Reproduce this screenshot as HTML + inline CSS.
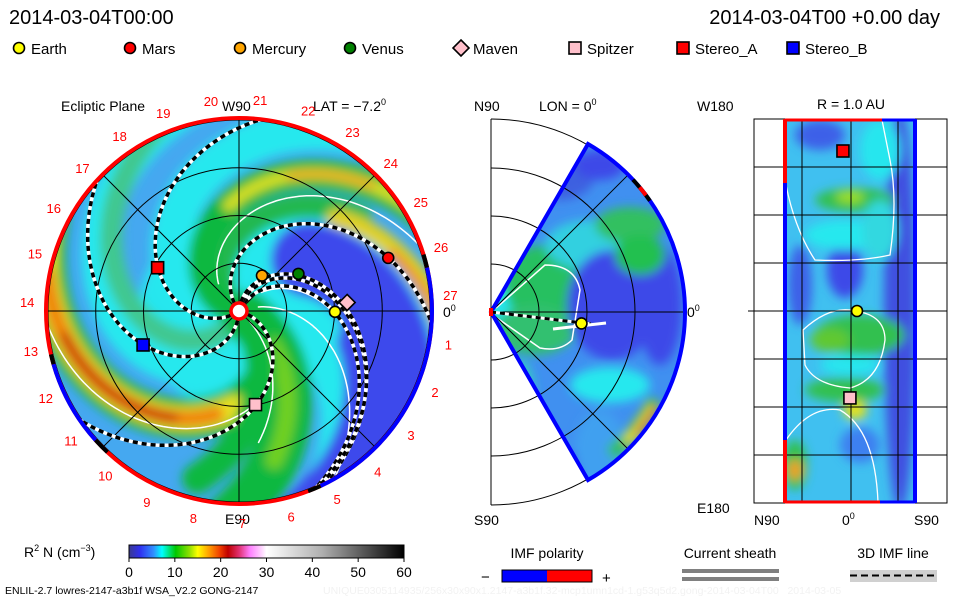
<!DOCTYPE html>
<html><head><meta charset="utf-8"><style>
html,body{margin:0;padding:0;background:#fff;}
body{width:960px;height:600px;overflow:hidden;position:relative;font-family:"Liberation Sans",sans-serif;}
svg text{font-family:"Liberation Sans",sans-serif;}
</style></head><body>
<svg id="chart" width="960" height="600" viewBox="0 0 960 600" xmlns="http://www.w3.org/2000/svg">
<defs>
<clipPath id="clipEcl"><circle cx="239" cy="311" r="193"/></clipPath>
<clipPath id="clipMer"><path id="wedgePath" d=""/></clipPath>
<clipPath id="clipLon"><rect x="785" y="119" width="130" height="384"/></clipPath>
<filter id="blur5" x="-20%" y="-20%" width="140%" height="140%"><feGaussianBlur stdDeviation="5"/></filter>
<filter id="blur3" x="-20%" y="-20%" width="140%" height="140%"><feGaussianBlur stdDeviation="3"/></filter>
<linearGradient id="cbar" x1="0" x2="1" y1="0" y2="0">
<stop offset="0" stop-color="#3a3a90"/><stop offset="0.04" stop-color="#3030f0"/><stop offset="0.09" stop-color="#3090ff"/>
<stop offset="0.12" stop-color="#00ffff"/><stop offset="0.17" stop-color="#00c800"/><stop offset="0.22" stop-color="#90e000"/>
<stop offset="0.25" stop-color="#ffff00"/><stop offset="0.29" stop-color="#ffa000"/><stop offset="0.33" stop-color="#f04000"/>
<stop offset="0.36" stop-color="#c00000"/><stop offset="0.40" stop-color="#e03070"/><stop offset="0.44" stop-color="#ff80ff"/>
<stop offset="0.48" stop-color="#ffd0ff"/><stop offset="0.50" stop-color="#ffffff"/><stop offset="0.70" stop-color="#b0b0b0"/>
<stop offset="1" stop-color="#000000"/>
</linearGradient>
</defs>

<text x="9" y="24" font-size="20" fill="#000">2014-03-04T00:00</text>
<text x="940" y="24" font-size="20" fill="#000" text-anchor="end">2014-03-04T00 +0.00 day</text>

<g id="legend"></g>

<text x="61" y="111" font-size="14">Ecliptic Plane</text>
<text x="222" y="111" font-size="14">W90</text>
<text x="313" y="111" font-size="14">LAT = −7.2<tspan dy="-6" font-size="9">0</tspan></text>
<text x="225" y="524" font-size="14">E90</text>
<text x="443" y="317" font-size="14">0<tspan dy="-6" font-size="9">0</tspan></text>

<text x="474" y="111" font-size="14">N90</text>
<text x="539" y="111" font-size="14">LON = 0<tspan dy="-6" font-size="9">0</tspan></text>
<text x="474" y="525" font-size="14">S90</text>
<text x="687" y="317" font-size="14">0<tspan dy="-6" font-size="9">0</tspan></text>

<text x="697" y="111" font-size="14">W180</text>
<text x="851" y="109" font-size="14" text-anchor="middle">R = 1.0 AU</text>
<text x="822" y="317" font-size="14">1</text>
<text x="697" y="513" font-size="14">E180</text>
<text x="754" y="525" font-size="14">N90</text>
<text x="842" y="525" font-size="14">0<tspan dy="-6" font-size="9">0</tspan></text>
<text x="914" y="525" font-size="14">S90</text>

<g id="ecl"></g>
<g id="mer"></g>
<g id="lonp"></g>

<text x="24" y="557" font-size="14">R<tspan dy="-6" font-size="9">2</tspan><tspan dy="6"> N (cm</tspan><tspan dy="-6" font-size="9">−3</tspan><tspan dy="6">)</tspan></text>
<rect x="129" y="545" width="275" height="13" fill="url(#cbar)" stroke="#000" stroke-width="1"/>
<g id="cbticks"></g>
<text x="5" y="594" font-size="10.5">ENLIL-2.7 lowres-2147-a3b1f WSA_V2.2 GONG-2147</text>
<text x="323" y="594" font-size="10.5" fill="#f2f2f2">UNIQUE0305114935/256x30x90x1.2147-a3b1f.32-mcp1umn1cd-1.g53q5d2.gong-2014-03-04T00 &#160; 2014-03-05</text>

<text x="547" y="558" font-size="14" text-anchor="middle">IMF polarity</text>
<text x="481" y="582" font-size="15">−</text>
<rect x="502" y="570" width="45" height="12" fill="#0000ff"/>
<rect x="547" y="570" width="45" height="12" fill="#ff0000"/>
<rect x="502" y="570" width="90" height="12" fill="none" stroke="#000" stroke-width="1"/>
<text x="602" y="583" font-size="15">+</text>
<text x="730" y="558" font-size="14" text-anchor="middle">Current sheath</text>
<rect x="682" y="569" width="97" height="4" fill="#808080"/>
<rect x="682" y="577" width="97" height="4" fill="#808080"/>
<text x="893" y="558" font-size="14" text-anchor="middle">3D IMF line</text>
<rect x="850" y="570" width="87" height="12" fill="#d0d0d0"/>
<line x1="850" y1="575.5" x2="937" y2="575.5" stroke="#000" stroke-width="2" stroke-dasharray="7 4"/>

<script>
// ---------- data ----------
const bodyNames   = ['Earth','Mars','Mercury','Venus','Maven','Spitzer','Stereo_A','Stereo_B'];
const bodyShapes  = ['circle','circle','circle','circle','diamond','square','square','square'];
const bodyColors  = ['#ffff00','#ff0000','#ffa500','#008000','#ffc0cb','#ffc0cb','#ff0000','#0000ff'];
const bodyRadiusAU = [1.00, 1.65, 0.44, 0.73, 1.13, 0.99, 0.96, 1.06];
const bodyLonDeg   = [-0.5, 19.6, 57.0, 32.0, 4.5, -80.0, 152.0, 199.5];
const lonPanelBodies = ['Stereo_A','Earth','Spitzer'];
const lonPanelLat    = [7.5, -5.6, 1];
const lonPanelLon    = [150, 0, -81.5];
const merEarthR = 0.95, merEarthLat = -7.2;
const carringtonLabels = [1,2,3,4,5,6,7,8,9,10,11,12,13,14,15,16,17,18,19,20,21,22,23,24,25,26,27];
const colorbarTicks = [0,10,20,30,40,50,60];
const imfArmA0 = [214, 268, 127, 64, -15, 77, 85];
const imfArmC  = [65, 65, 65, 65, 65, 70, 75];

// ---------- helpers ----------
const NS='http://www.w3.org/2000/svg';
function el(tag, attrs, parent){const e=document.createElementNS(NS,tag);for(const k in attrs)e.setAttribute(k,attrs[k]);(parent||svg).appendChild(e);return e;}
const svg=document.getElementById('chart');
const CX=239, CY=311, R=193, S=96;
function px(r,a){return [CX + r*S*Math.cos(a*Math.PI/180), CY - r*S*Math.sin(a*Math.PI/180)];}
function spiral(a0,c,r0,r1){let d='';for(let r=r0;r<=r1+1e-6;r+=0.02){const p=px(r,a0-c*r);d+=(d?'L':'M')+p[0].toFixed(1)+','+p[1].toFixed(1);}return d;}
function arc(cx,cy,r,a1,a2){const p1=[cx+r*Math.cos(a1*Math.PI/180),cy-r*Math.sin(a1*Math.PI/180)];const p2=[cx+r*Math.cos(a2*Math.PI/180),cy-r*Math.sin(a2*Math.PI/180)];const large=Math.abs(a2-a1)>180?1:0;return `M${p1[0]},${p1[1]}A${r},${r} 0 ${large} 0 ${p2[0]},${p2[1]}`;}
function marker(g,shape,x,y,color,name){
  let m;
  if(shape==='circle') m=el('circle',{cx:x,cy:y,r:5.5,fill:color,stroke:'#000','stroke-width':1.6},g);
  else if(shape==='square') m=el('rect',{x:x-6,y:y-6,width:12,height:12,fill:color,stroke:'#000','stroke-width':1.6},g);
  else m=el('path',{d:`M${x},${y-8}L${x+8},${y}L${x},${y+8}L${x-8},${y}Z`,fill:color,stroke:'#000','stroke-width':1.6},g);
  
  
  return m;
}

// ---------- legend ----------
const lg=document.getElementById('legend');
const legendX=[19,130,240,350,461,575,683,793];
bodyNames.forEach((n,i)=>{
  marker(lg,bodyShapes[i],legendX[i],48,bodyColors[i],'legend-marker-'+n.toLowerCase());
  const t=el('text',{x:legendX[i]+12,y:54,'font-size':15},lg);t.textContent=n;
  
  
});

// ---------- ecliptic panel ----------
const ecl=document.getElementById('ecl');
const field=el('g',{'clip-path':'url(#clipEcl)'},ecl);


el('circle',{cx:CX,cy:CY,r:R,fill:'#45a8f0'},field);
const fb=el('g',{filter:'url(#blur5)'},field);
el('circle',{cx:CX,cy:CY,r:100,fill:'#25e6ee'},fb);
const bands=[
 [200,65,0.3,2.2,40,'#28e8ee'],[300,90,0.3,2.2,34,'#28e8ee'],[120,65,0.3,2.1,28,'#28e8ee'],[10,35,0.2,2.1,50,'#28e8ee'],
 [95,65,0.9,2.3,75,'#3c48ec'],[70,65,1.3,2.3,45,'#3c48ec'],[40,40,1.4,2.3,30,'#3c48ec'],
 [250,65,0.3,2.1,22,'#40c890'],[142,65,0.1,1.6,24,'#20b850'],
 [167,65,0.15,2.2,30,'#10b840'],[167,65,1.1,2.2,12,'#d8e020'],[167,65,1.5,1.9,7,'#f0a020'],
 [135,65,1.4,2.2,18,'#e0d020'],[131,65,1.7,2.2,9,'#f08020'],
 [361,94,0.8,2.2,40,'#10b840'],[361,94,1.0,2.2,24,'#e8e020'],[361,94,1.1,2.05,15,'#f08010'],[361,94,1.3,1.85,8,'#c01010'],
 [-32,28,0.1,2.2,50,'#10b840'],[-32,28,0.5,1.6,18,'#70d020'],[-50,30,0.3,1.8,30,'#10b840']
];
bands.forEach(b=>el('path',{d:spiral(b[0],b[1],b[2],b[3]),fill:'none',stroke:b[5],'stroke-width':b[4],'stroke-linecap':'round'},fb));
[[150,65,0.35,2.05],[372,94,0.9,2.1],[-40,30,0.15,1.4],[58,60,0.3,1.3],[20,40,0.2,2.0]].forEach(w=>
  el('path',{d:spiral(w[0],w[1],w[2],w[3]),fill:'none',stroke:'#fff','stroke-width':1.5},field));
const grid=el('g',{stroke:'#000','stroke-width':1,fill:'none'},field);


[0.5,1,1.5,2].forEach(r=>el('circle',{cx:CX,cy:CY,r:r*S*0.995},grid));
[0,45,90,135].forEach(a=>{const p1=px(2.1,a),p2=px(2.1,a+180);el('line',{x1:p1[0],y1:p1[1],x2:p2[0],y2:p2[1]},grid);});
imfArmA0.forEach((a0,i)=>{
  const d=spiral(a0,imfArmC[i],0.1,2.05);
  el('path',{d:d,fill:'none',stroke:'#fff','stroke-width':3.5},field);
  const p=el('path',{d:d,fill:'none',stroke:'#000','stroke-width':3.5,'stroke-dasharray':'5 4'},field);
  
  
});
el('circle',{cx:CX,cy:CY,r:R,fill:'none',stroke:'#ff0000','stroke-width':4},ecl);
el('path',{d:arc(CX,CY,R,-65,13),fill:'none',stroke:'#0000ff','stroke-width':4},ecl);
el('path',{d:arc(CX,CY,R,196,222),fill:'none',stroke:'#0000ff','stroke-width':4},ecl);
[[13,17],[-69,-65],[193,196],[222,227]].forEach(s=>el('path',{d:arc(CX,CY,R,s[0],s[1]),fill:'none',stroke:'#000','stroke-width':4},ecl));
carringtonLabels.forEach(k=>{
  const a=4.3+(27-k)*13.33;
  const x=CX+212*Math.cos(a*Math.PI/180), y=CY-212*Math.sin(a*Math.PI/180)+5;
  const t=el('text',{x:x,y:y,'font-size':13,fill:'#ff0000','text-anchor':'middle'},ecl);t.textContent=k;
  
  
});
el('circle',{cx:CX,cy:CY,r:8,fill:'#fff',stroke:'#ff0000','stroke-width':3.5},ecl);
bodyNames.forEach((n,i)=>{const p=px(bodyRadiusAU[i],bodyLonDeg[i]);marker(ecl,bodyShapes[i],p[0],p[1],bodyColors[i],'ecliptic-'+n.toLowerCase());});

// ---------- meridional panel ----------
const MX=491, MY=312, MR=194;
const mer=document.getElementById('mer');
const wp=`M${MX},${MY}L${MX+MR*Math.cos(Math.PI/3)},${MY-MR*Math.sin(Math.PI/3)}A${MR},${MR} 0 0 1 ${MX+MR*Math.cos(Math.PI/3)},${MY+MR*Math.sin(Math.PI/3)}Z`;
document.getElementById('wedgePath').setAttribute('d',wp);
const mg=el('g',{'clip-path':'url(#clipMer)'},mer);
el('path',{d:wp,fill:'#4090f0'},mg);
const mb=el('g',{filter:'url(#blur5)'},mg);
[[520,312,40,30,'#25e6ee'],[545,285,40,40,'#28c060'],[535,330,40,25,'#30c070'],[590,245,45,25,'#30d0e0'],
 [630,225,35,18,'#30c060'],[612,305,45,55,'#3c48e8'],[660,305,22,60,'#3c48e8'],[560,175,35,25,'#3c60e0'],
 [600,165,25,15,'#3c48e8'],[520,400,15,40,'#30d0c0'],[610,385,40,18,'#28e8ee'],[640,255,25,20,'#20c050'],
 [560,470,25,18,'#3c48e8'],[600,450,25,40,'#40a0f0']
].forEach(e=>el('ellipse',{cx:e[0],cy:e[1],rx:e[2],ry:e[3],fill:e[4]},mb));
el('path',{d:arc(MX,MY,MR-8,-50,-28),fill:'none',stroke:'#30c050','stroke-width':14},mb);
el('path',{d:arc(MX,MY,MR-6,-44,-30),fill:'none',stroke:'#f0e020','stroke-width':9},mb);
el('path',{d:arc(MX,MY,MR-4,-40,-30),fill:'none',stroke:'#f08010','stroke-width':6},mb);
el('path',{d:'M496,308 L545,265 Q575,265 580,290 L572,340 Q560,352 540,348 L497,318',fill:'none',stroke:'#fff','stroke-width':1.5},mg);
const mgr=el('g',{stroke:'#000','stroke-width':1,fill:'none'},mer);


el('line',{x1:MX,y1:MY-MR+1,x2:MX,y2:MY+MR-1},mgr);
[48,96,144,193].forEach(r=>el('path',{d:arc(MX,MY,r,-90,90)},mgr));
el('line',{x1:MX,y1:MY,x2:MX+MR,y2:MY},mgr);
[45,-45].forEach(a=>el('line',{x1:MX,y1:MY,x2:MX+MR*Math.cos(a*Math.PI/180),y2:MY-MR*Math.sin(a*Math.PI/180)},mgr));
el('path',{d:wp,fill:'none',stroke:'#0000ff','stroke-width':4},mer);
el('path',{d:arc(MX,MY,MR,35,43),fill:'none',stroke:'#000','stroke-width':4},mer);
el('path',{d:arc(MX,MY,MR,37,40),fill:'none',stroke:'#ff0000','stroke-width':4},mer);
el('path',{d:`M${MX},${MY}L${MX+100},${MY+12}`,fill:'none',stroke:'#fff','stroke-width':3},mer);
el('path',{d:`M${MX},${MY}L${MX+100},${MY+12}`,fill:'none',stroke:'#000','stroke-width':3,'stroke-dasharray':'5 4'},mer);
el('path',{d:`M${MX+62},${MY+17}L${MX+115},${MY+11}`,fill:'none',stroke:'#fff','stroke-width':3},mer);
{const ex=MX+merEarthR*S*Math.cos(merEarthLat*Math.PI/180), ey=MY-merEarthR*S*Math.sin(merEarthLat*Math.PI/180);
 marker(mer,'circle',ex,ey,'#ffff00','meridional-earth');}
el('rect',{x:MX-2,y:MY-4,width:4,height:8,fill:'#ff0000'},mer);

// ---------- R = 1 AU panel ----------
const lp=document.getElementById('lonp');
const LX0=754, LX1=947, LY0=119, LY1=503;
const lonX=lat=>851 + (-lat/90)*96.5;
const lonY=lon=>311 - (lon/180)*192;
const lg2=el('g',{'clip-path':'url(#clipLon)'},lp);
el('rect',{x:785,y:119,width:130,height:384,fill:'#40c0f0'},lg2);
const lb=el('g',{filter:'url(#blur5)'},lg2);
[[900,311,16,200,'#4050e0'],[845,270,18,28,'#3c48e8'],[820,135,25,15,'#3c60e8'],[855,200,40,12,'#30c050'],
 [850,197,14,6,'#a0e020'],[845,235,40,15,'#28e8ee'],[860,335,45,20,'#30c050'],[830,340,20,12,'#60c830'],
 [845,390,40,12,'#30c050'],[855,410,12,10,'#e0e020'],[795,465,12,25,'#30c050'],[795,470,8,10,'#f0a020'],
 [800,285,12,40,'#3c60e8'],[860,445,20,18,'#3c80f0'],[850,365,30,10,'#25e6ee'],[880,150,20,30,'#25e6ee'],[880,230,18,30,'#30d8e0']
].forEach(e=>el('ellipse',{cx:e[0],cy:e[1],rx:e[2],ry:e[3],fill:e[4]},lb));
el('path',{d:'M786,185 Q795,230 815,260 Q860,262 890,255 Q898,200 890,160 Q885,135 882,120',fill:'none',stroke:'#fff','stroke-width':1.3},lg2);
el('path',{d:'M803,330 Q830,305 855,311 Q885,315 885,340 Q880,380 850,388 Q815,385 805,365 Z',fill:'none',stroke:'#fff','stroke-width':1.3},lg2);
el('path',{d:'M786,440 Q810,405 840,410 Q875,430 878,502',fill:'none',stroke:'#fff','stroke-width':1.3},lg2);
const lgr=el('g',{stroke:'#000','stroke-width':1,fill:'none'},lp);


el('rect',{x:LX0,y:LY0,width:LX1-LX0,height:LY1-LY0},lgr);
[802,851,898].forEach(x=>el('line',{x1:x,y1:LY0,x2:x,y2:LY1},lgr));
for(let i=1;i<8;i++){const y=LY0+i*48;el('line',{x1:LX0,y1:y,x2:LX1,y2:y},lgr);}
el('line',{x1:748,y1:311,x2:754,y2:311},lgr);
el('line',{x1:915,y1:119,x2:915,y2:503,stroke:'#0000ff','stroke-width':4},lp);
el('line',{x1:785,y1:119,x2:785,y2:183,stroke:'#ff0000','stroke-width':4},lp);
el('line',{x1:785,y1:183,x2:785,y2:440,stroke:'#0000ff','stroke-width':4},lp);
el('line',{x1:785,y1:440,x2:785,y2:503,stroke:'#ff0000','stroke-width':4},lp);
el('line',{x1:785,y1:120,x2:882,y2:120,stroke:'#ff0000','stroke-width':3},lp);
el('line',{x1:882,y1:120,x2:915,y2:120,stroke:'#0000ff','stroke-width':3},lp);
el('line',{x1:785,y1:502,x2:880,y2:502,stroke:'#ff0000','stroke-width':3},lp);
el('line',{x1:880,y1:502,x2:915,y2:502,stroke:'#0000ff','stroke-width':3},lp);
lonPanelBodies.forEach((n,i)=>{const j=bodyNames.indexOf(n);marker(lp,bodyShapes[j],lonX(lonPanelLat[i]),lonY(lonPanelLon[i]),bodyColors[j],'r1au-'+n.toLowerCase());});

// ---------- colorbar ticks ----------
const cb=document.getElementById('cbticks');
colorbarTicks.forEach(v=>{
  const x=129+v/60*275;
  el('line',{x1:x,y1:558,x2:x,y2:562,stroke:'#000'},cb);
  const t=el('text',{x:x,y:577,'font-size':14,'text-anchor':'middle'},cb);t.textContent=v;
  
  
});
</script>
</svg>
</body></html>
